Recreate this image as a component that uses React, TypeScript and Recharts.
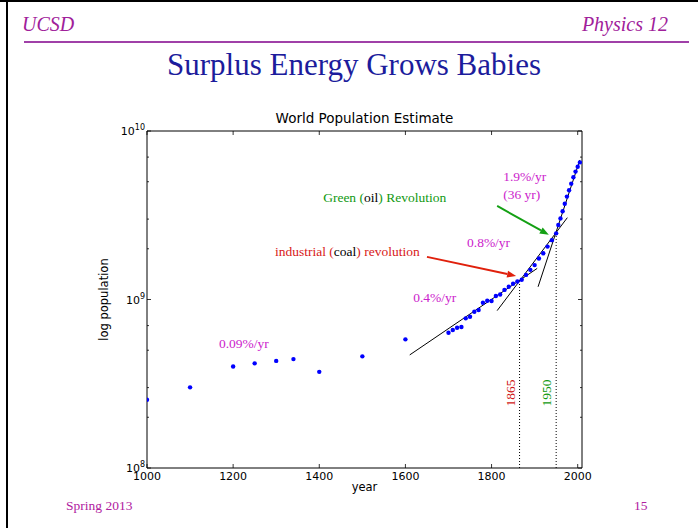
import React from "react";
import { ComposedChart, Scatter, XAxis, YAxis, ReferenceLine, ReferenceDot } from "recharts";

// population estimates (millions)
const years = [
  1000, 1100, 1200, 1250, 1300, 1340, 1400, 1500, 1600,
  1700, 1710, 1720, 1730, 1740, 1750, 1760, 1770, 1780, 1790,
  1800, 1810, 1820, 1830, 1840, 1850, 1860, 1870, 1880, 1890,
  1900, 1910, 1920, 1930, 1940, 1950,
  1955, 1960, 1965, 1970, 1975, 1980, 1985, 1990, 1995, 2000, 2005,
];
const popMillions = [
  254, 301, 400, 418, 432, 443, 372, 460, 580,
  635, 659, 680, 687, 773, 790, 846, 866, 957, 984,
  979, 1050, 1070, 1140, 1190, 1240, 1280, 1310, 1400, 1500,
  1600, 1750, 1880, 2060, 2250, 2470,
  2770, 3030, 3340, 3700, 4080, 4450, 4870, 5310, 5740, 6130, 6510,
];

const xTicks = [1000, 1200, 1400, 1600, 1800, 2000];
const majorY = [1e8, 1e9, 1e10];
const minorY = [2e8, 3e8, 4e8, 5e8, 6e8, 7e8, 8e8, 9e8, 2e9, 3e9, 4e9, 5e9, 6e9, 7e9, 8e9, 9e9];

// growth-rate fit segments [year, population]
const fitStart = [[1610, 4.69e8], [1813, 8.59e8], [1908, 1.19e9]];
const fitEnd = [[1906, 1.53e9], [1976, 3.06e9], [2005, 6.73e9]];

// transition years with the population where the fits cross
const transitionYears = [1865, 1950];
const transitionPop = [1.28e9, 2.5e9];
const transitionColors = ["#d01818", "#119911"];

// arrows
const arrowFrom = [[1650, 1.79e9], [1813, 3.59e9]];
const arrowTo = [[1857, 1.38e9], [1933, 2.42e9]];
const arrowColors = ["#e0200c", "#14a014"];

const rateLabels = ["0.09%/yr", "0.4%/yr", "0.8%/yr", "1.9%/yr", "(36 yr)"];
const rateLabelPos = [[1167, 5.15e8], [1618, 9.66e8], [1743, 2.05e9], [1827, 5.05e9], [1827, 3.95e9]];

const data = years.map((y, i) => ({ year: y, pop: popMillions[i] * 1e6 }));

const SERIF = "'Liberation Serif', 'Times New Roman', serif";
const SANS = "'DejaVu Sans', sans-serif";
const MAGENTA = "#cc22cc";

function LeftTick(p: any) {
  const v = p.payload.value;
  const major = majorY.includes(v);
  return (
    <g>
      <line x1={p.x} x2={p.x + (major ? 4 : 2)} y1={p.y} y2={p.y} stroke="#000" strokeWidth={0.8} />
      {major && (
        <text x={p.x - 2} y={p.y} dy="0.4em" textAnchor="end" fontFamily={SANS} fontSize={11} fill="#000">
          10<tspan dy={-5} fontSize={8}>{Math.round(Math.log10(v))}</tspan>
        </text>
      )}
    </g>
  );
}

function RightTick(p: any) {
  const major = majorY.includes(p.payload.value);
  return <line x1={p.x} x2={p.x - (major ? 4 : 2)} y1={p.y} y2={p.y} stroke="#000" strokeWidth={0.8} />;
}

function BottomTick(p: any) {
  return (
    <g>
      <line x1={p.x} x2={p.x} y1={p.y} y2={p.y - 4} stroke="#000" strokeWidth={0.8} />
      <text x={p.x} y={p.y + 3} dy="0.8em" textAnchor="middle" fontFamily={SANS} fontSize={11} fill="#000">
        {p.payload.value}
      </text>
    </g>
  );
}

function TopTick(p: any) {
  return <line x1={p.x} x2={p.x} y1={p.y} y2={p.y + 4} stroke="#000" strokeWidth={0.8} />;
}

function arrowShape(color: string) {
  return (p: any) => {
    const { x1, y1, x2, y2 } = p;
    const a = Math.atan2(y2 - y1, x2 - x1);
    const L = 9, W = 3.5;
    const bx = x2 - L * Math.cos(a), by = y2 - L * Math.sin(a);
    const pts = `${x2},${y2} ${bx - W * Math.sin(a)},${by + W * Math.cos(a)} ${bx + W * Math.sin(a)},${by - W * Math.cos(a)}`;
    return (
      <g>
        <line x1={x1} y1={y1} x2={bx} y2={by} stroke={color} strokeWidth={2} />
        <polygon points={pts} fill={color} />
      </g>
    );
  };
}

function textShape(node: React.ReactNode) {
  return (p: any) => (
    <text x={p.cx} y={p.cy} fontFamily={SERIF} fontSize={13.5}>
      {node}
    </text>
  );
}

export default function App() {
  return (
    <div style={{ position: "absolute", left: 0, top: 0, width: 698, height: 528, background: "#fff" }}>
      <ComposedChart width={698} height={528} data={data} margin={{ top: 130, right: 115, bottom: 30, left: 87 }}>
        <XAxis
          dataKey="year"
          type="number"
          domain={[1000, 2010]}
          ticks={xTicks}
          allowDataOverflow
          height={30}
          stroke="#000"
          tickLine={false}
          tickSize={0}
          tickMargin={0}
          tick={BottomTick}
        />
        <XAxis
          xAxisId="top"
          orientation="top"
          dataKey="year"
          type="number"
          domain={[1000, 2010]}
          ticks={xTicks}
          allowDataOverflow
          height={1}
          stroke="#000"
          tickLine={false}
          tickSize={0}
          tickMargin={0}
          tick={TopTick}
        />
        <YAxis
          dataKey="pop"
          type="number"
          scale="log"
          domain={[1e8, 1e10]}
          ticks={[...majorY, ...minorY].sort((a, b) => a - b)}
          allowDataOverflow
          width={60}
          stroke="#000"
          tickLine={false}
          tickSize={0}
          tickMargin={0}
          tick={LeftTick}
        />
        <YAxis
          yAxisId="right"
          orientation="right"
          dataKey="pop"
          type="number"
          scale="log"
          domain={[1e8, 1e10]}
          ticks={[...majorY, ...minorY].sort((a, b) => a - b)}
          allowDataOverflow
          width={1}
          stroke="#000"
          tickLine={false}
          tickSize={0}
          tickMargin={0}
          tick={RightTick}
        />

        {transitionYears.map((yr, i) => (
          <ReferenceLine
            key={"t" + yr}
            segment={[{ x: yr, y: 1e8 }, { x: yr, y: transitionPop[i] }]}
            stroke="#000"
            strokeWidth={1}
            strokeDasharray="1 2"
          />
        ))}

        {fitStart.map((s, i) => (
          <ReferenceLine
            key={"f" + i}
            segment={[{ x: s[0], y: s[1] }, { x: fitEnd[i][0], y: fitEnd[i][1] }]}
            stroke="#000"
            strokeWidth={1}
          />
        ))}

        <Scatter
          dataKey="pop"
          fill="#0000ff"
          isAnimationActive={false}
          shape={(p: any) => <circle cx={p.cx} cy={p.cy} r={2.2} fill="#0000ff" />}
        />

        {arrowFrom.map((s, i) => (
          <ReferenceLine
            key={"a" + i}
            segment={[{ x: s[0], y: s[1] }, { x: arrowTo[i][0], y: arrowTo[i][1] }]}
            shape={arrowShape(arrowColors[i])}
          />
        ))}

        {rateLabels.map((t, i) => (
          <ReferenceDot
            key={"r" + i}
            x={rateLabelPos[i][0]}
            y={rateLabelPos[i][1]}
            r={0}
            shape={(p: any) => (
              <text x={p.cx} y={p.cy} fontFamily={SERIF} fontSize={13.5} fill={MAGENTA}>
                {t}
              </text>
            )}
          />
        ))}

        <ReferenceDot
          x={1297}
          y={1.81e9}
          r={0}
          shape={textShape(
            <>
              <tspan fill="#d81818">industrial (</tspan>
              <tspan fill="#000">coal</tspan>
              <tspan fill="#d81818">) revolution</tspan>
            </>
          )}
        />
        <ReferenceDot
          x={1409}
          y={3.79e9}
          r={0}
          shape={textShape(
            <>
              <tspan fill="#119911">Green (</tspan>
              <tspan fill="#000">oil</tspan>
              <tspan fill="#119911">) Revolution</tspan>
            </>
          )}
        />

        {transitionYears.map((yr, i) => (
          <ReferenceDot
            key={"l" + yr}
            x={yr - 11}
            y={2.79e8}
            r={0}
            shape={(p: any) => (
              <text
                x={p.cx}
                y={p.cy}
                transform={`rotate(-90 ${p.cx} ${p.cy})`}
                textAnchor="middle"
                fontFamily={SERIF}
                fontSize={13.5}
                fill={transitionColors[i]}
              >
                {yr}
              </text>
            )}
          />
        ))}
      </ComposedChart>

      <svg width={698} height={528} style={{ position: "absolute", left: 0, top: 0, pointerEvents: "none" }}>
        <rect x={0} y={0} width={698} height={2} fill="#000" />
        <rect x={6} y={0} width={2} height={528} fill="#000" />
        <text x={22} y={31} fontFamily={SERIF} fontStyle="italic" fontSize={20} fill="#a0209a">UCSD</text>
        <text x={668} y={31} textAnchor="end" fontFamily={SERIF} fontStyle="italic" fontSize={20} fill="#a0209a">Physics 12</text>
        <line x1={24} x2={689} y1={42} y2={42} stroke="#a040a8" strokeWidth={2} />
        <text x={354} y={75} textAnchor="middle" fontFamily={SERIF} fontSize={31} fill="#1c1c9c">Surplus Energy Grows Babies</text>
        <text x={364.5} y={123} textAnchor="middle" fontFamily={SANS} fontSize={13.5} fill="#000">World Population Estimate</text>
        <text x={108} y={299.5} transform="rotate(-90 108 299.5)" textAnchor="middle" fontFamily={SANS} fontSize={11.5} fill="#000">log population</text>
        <text x={364.5} y={491} textAnchor="middle" fontFamily={SANS} fontSize={11.5} fill="#000">year</text>
        <text x={66} y={510} fontFamily={SERIF} fontSize={13.5} fill="#b020a0">Spring 2013</text>
        <text x={634} y={510} fontFamily={SERIF} fontSize={13.5} fill="#b020a0">15</text>
      </svg>
    </div>
  );
}
